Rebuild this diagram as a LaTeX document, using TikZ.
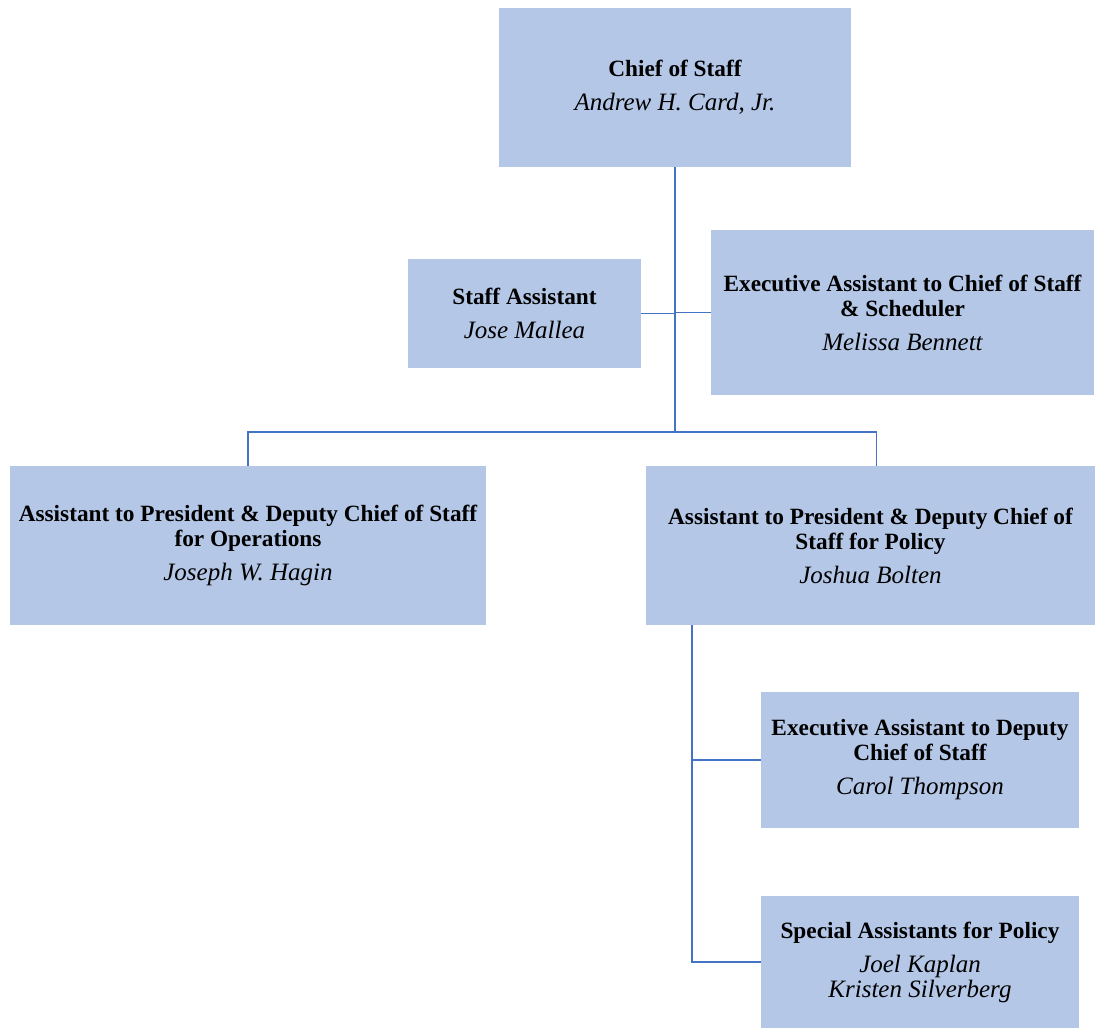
\documentclass[tikz,border=0pt]{standalone}
\usepackage{fontspec}
\setmainfont{Liberation Serif}
\definecolor{boxblue}{HTML}{B4C7E7}
\definecolor{lineblue}{HTML}{4472C4}
\newcommand{\who}[1]{{\fontsize{25}{25}\selectfont\mdseries\itshape #1}}
\tikzset{
  orgbox/.style={fill=boxblue, draw=none, align=center, inner sep=0pt, font=\fontsize{23.3}{25}\selectfont\bfseries},
  orgline/.style={draw=lineblue, line width=1.3pt},
}

\begin{document}
\begin{tikzpicture}[x=1pt, y=-1pt]
  \useasboundingbox (0,0) rectangle (1095,1029);
  \node[orgbox, minimum width=352pt, minimum height=159pt] (chief) at (675,87.5) {Chief of Staff\\[9pt]\who{Andrew H. Card, Jr.}};
  \node[orgbox, minimum width=233pt, minimum height=109pt] (staff) at (524.5,313.5) {Staff Assistant\\[9pt]\who{Jose Mallea}};
  \node[orgbox, minimum width=383pt, minimum height=165pt] (exec) at (902.5,312.5) {Executive Assistant to Chief of Staff\\\& Scheduler\\[9pt]\who{Melissa Bennett}};
  \node[orgbox, minimum width=476pt, minimum height=159pt] (ops) at (248,545.5) {Assistant to President \& Deputy Chief of Staff\\for Operations\\[9pt]\who{Joseph W. Hagin}};
  \node[orgbox, minimum width=449pt, minimum height=159pt] (policy) at (870.5,545.5) {Assistant to President \& Deputy Chief of\\Staff for Policy\\[9pt]\who{Joshua Bolten}};
  \node[orgbox, minimum width=318pt, minimum height=136pt] (deputy) at (920,760) {Executive Assistant to Deputy\\Chief of Staff\\[9pt]\who{Carol Thompson}};
  \node[orgbox, minimum width=318pt, minimum height=132pt] (special) at (920,962) {Special Assistants for Policy\\[9pt]\who{Joel Kaplan}\\\who{Kristen Silverberg}};
  \coordinate (bus) at (675,432);
  \coordinate (poltop) at (876.5,466);
  \coordinate (polbot) at (692,625);
  \draw[orgline] (chief.south) -- (bus);
  \draw[orgline] (staff.east) -- (staff.east -| chief.south);
  \draw[orgline] (exec.west) -- (exec.west -| chief.south);
  \draw[orgline] (ops.north) |- (bus) -| (poltop);
  \draw[orgline] (polbot) |- (deputy.west);
  \draw[orgline] (polbot) |- (special.west);
\end{tikzpicture}
\end{document}
